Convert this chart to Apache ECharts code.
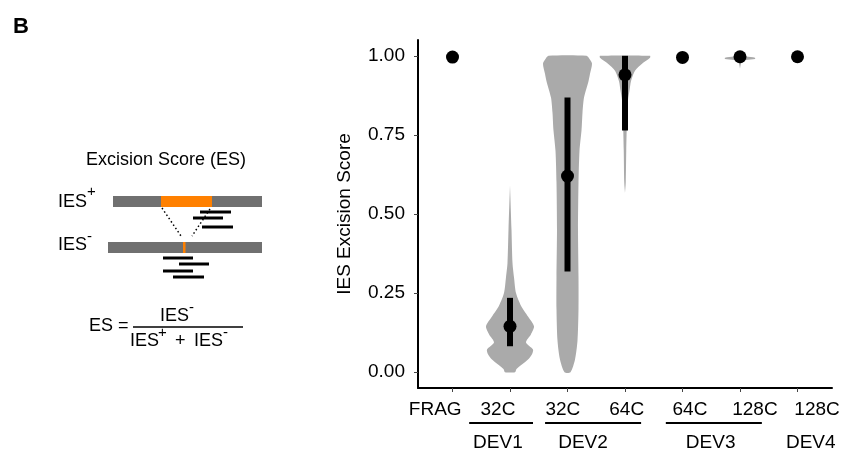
<!DOCTYPE html>
<html>
<head>
<meta charset="utf-8">
<style>
html, body { margin: 0; padding: 0; background: #fff; }
#main { width: 847px; height: 454px; }
</style>
<script src="https://cdn.jsdelivr.net/npm/echarts@6/dist/echarts.min.js"></script>
</head>
<body>
<div id="main"></div>
<script>
const FONT = '"Liberation Sans", Arial, Helvetica, sans-serif';
const INK = '#000';

// categories along x (positions 1..7)
const categories = ['FRAG', '32C', '32C', '64C', '64C', '128C', '128C'];
const groupNames = ['DEV1', 'DEV2', 'DEV3', 'DEV4'];
const yTicks = [0, 0.25, 0.5, 0.75, 1];

// median excision score per category (black dots)
const medians = [0.996, 0.145, 0.62, 0.94, 0.995, 0.997, 0.997];
// interquartile bars (null = none)
const barLow  = [null, 0.082, 0.318, 0.764, null, null, null];
const barHigh = [null, 0.235, 0.868, 1.0, null, null, null];

// violin outlines: score values and relative density (1 = widest)
const dev1_32c_y = [0, 0.01, 0.04, 0.057, 0.072, 0.094, 0.12, 0.145, 0.176, 0.21, 0.25, 0.30, 0.345, 0.45, 0.59];
const dev1_32c_d = [0.2, 0.26, 0.72, 0.88, 0.92, 0.64, 0.84, 0.96, 0.72, 0.44, 0.24, 0.16, 0.1, 0.06, 0];
const dev2_32c_y = [0, 0.04, 0.1, 0.2, 0.3, 0.45, 0.6, 0.7, 0.764, 0.82, 0.868, 0.92, 0.943, 0.975, 0.99, 1.0];
const dev2_32c_d = [0.12, 0.3, 0.4, 0.44, 0.44, 0.42, 0.44, 0.48, 0.56, 0.6, 0.66, 0.84, 0.9, 0.98, 0.88, 0.76];
const dev2_64c_y = [0.566, 0.6, 0.7, 0.8, 0.86, 0.89, 0.92, 0.953, 0.975, 0.994, 1.0];
const dev2_64c_d = [0, 0.03, 0.05, 0.08, 0.12, 0.18, 0.24, 0.4, 0.68, 1.0, 1.0];
const dev3_128c_y = [0.96, 0.975, 0.983, 0.987, 0.99, 0.994, 0.998, 1.0];
const dev3_128c_d = [0, 0.04, 0.1, 0.25, 0.6, 0.6, 0.25, 0];

const violins = [
    { x: 2, y: dev1_32c_y, d: dev1_32c_d },
    { x: 3, y: dev2_32c_y, d: dev2_32c_d },
    { x: 4, y: dev2_64c_y, d: dev2_64c_d },
    { x: 6, y: dev3_128c_y, d: dev3_128c_d }
];

// label layout (x in category units) - the figure sets labels slightly off the ticks
const catLabelX = [0.70, 1.79, 2.92, 4.03, 5.13, 6.26, 7.34];
const groupLabelX = [1.79, 3.27, 5.49, 7.23];
const groupLineX = [[1.29, 2.4], [2.61, 4.28], [4.71, 6.38]];

const VIOLIN_HALF = 0.435;   // half width of the widest violin, category units
const catIdx = categories.map((c, i) => i + 1);

var chart = echarts.init(document.getElementById('main'));

const option = {
    animation: false,
    textStyle: { fontFamily: FONT },
    grid: { left: 418, right: 15, top: 40, bottom: 66 },
    xAxis: [
        {
            type: 'value',
            min: 0.4,
            max: 7.6,
            splitLine: { show: false },
            axisLine: { show: true, onZero: false, lineStyle: { color: '#000', width: 2 } },
            axisTick: { show: true, customValues: catIdx, length: 4, lineStyle: { color: '#444' } },
            axisLabel: { show: false }
        },
        {
            type: 'value',
            position: 'bottom',
            min: 0.4,
            max: 7.6,
            splitLine: { show: false },
            axisLine: { show: false },
            axisTick: { show: false },
            axisLabel: {
                customValues: catLabelX,
                margin: 12,
                color: INK,
                fontSize: 19,
                fontFamily: FONT,
                formatter: v => categories[catLabelX.findIndex(p => Math.abs(p - v) < 1e-6)]
            }
        }
    ],
    yAxis: {
        type: 'value',
        min: -0.05,
        max: 1.05,
        name: 'IES Excision Score',
        nameLocation: 'middle',
        nameRotate: 90,
        nameGap: 64,
        nameTextStyle: { color: INK, fontSize: 19, fontFamily: FONT },
        splitLine: { show: false },
        axisLine: { show: true, onZero: false, lineStyle: { color: '#000', width: 2 } },
        axisTick: { show: true, customValues: yTicks, length: 4, lineStyle: { color: '#444' } },
        axisLabel: {
            customValues: yTicks,
            margin: 13,
            color: INK,
            fontSize: 19,
            fontFamily: FONT,
            formatter: v => v.toFixed(2)
        }
    },
    series: [
        {
            type: 'custom',
            name: 'violin',
            data: violins.map(v => [v.x]),
            renderItem: function (params, api) {
                const v = violins[params.dataIndex];
                const right = [], left = [];
                for (let i = 0; i < v.y.length; i++) {
                    right.push(api.coord([v.x + v.d[i] * VIOLIN_HALF, v.y[i]]));
                    left.push(api.coord([v.x - v.d[i] * VIOLIN_HALF, v.y[i]]));
                }
                return {
                    type: 'polygon',
                    shape: { points: right.concat(left.reverse()), smooth: 0.25 },
                    style: { fill: '#aaaaaa' }
                };
            },
            z: 1
        },
        {
            type: 'custom',
            name: 'iqr',
            data: catIdx.filter(i => barLow[i - 1] !== null).map(i => [i, barLow[i - 1], barHigh[i - 1]]),
            renderItem: function (params, api) {
                const p0 = api.coord([api.value(0), api.value(1)]);
                const p1 = api.coord([api.value(0), api.value(2)]);
                return {
                    type: 'line',
                    shape: { x1: p0[0], y1: p0[1], x2: p1[0], y2: p1[1] },
                    style: { stroke: '#000', lineWidth: 6 }
                };
            },
            z: 2
        },
        {
            type: 'scatter',
            name: 'median',
            data: catIdx.map(i => [i, medians[i - 1]]),
            symbolSize: 13,
            itemStyle: { color: '#000', opacity: 1 },
            z: 3
        }
    ]
};

chart.setOption(option);

// group labels and underlines below the x axis
const axisY = 454 - 66;
const groupGraphics = [];
groupLineX.forEach(function (g) {
    const a = chart.convertToPixel({ xAxisIndex: 0 }, g[0]);
    const b = chart.convertToPixel({ xAxisIndex: 0 }, g[1]);
    groupGraphics.push({
        type: 'line',
        shape: { x1: a, y1: axisY + 35, x2: b, y2: axisY + 35 },
        style: { stroke: '#000', lineWidth: 2 }
    });
});
groupNames.forEach(function (name, i) {
    groupGraphics.push({
        type: 'text',
        x: chart.convertToPixel({ xAxisIndex: 0 }, groupLabelX[i]),
        y: axisY + 55,
        style: { text: name, font: '19px ' + FONT, fill: INK, textAlign: 'center', textVerticalAlign: 'middle' }
    });
});

// left-hand schematic of the excision score
function txt(x, y, s, size, align, weight) {
    return {
        type: 'text', x: x, y: y,
        style: {
            text: s, font: (weight || 'normal') + ' ' + size + 'px ' + FONT, fill: INK,
            textAlign: align || 'left', textVerticalAlign: 'middle'
        }
    };
}
function seg(x1, y1, x2, y2, w, dash) {
    return {
        type: 'line',
        shape: { x1: x1, y1: y1, x2: x2, y2: y2 },
        style: { stroke: '#000', lineWidth: w, lineDash: dash || null }
    };
}
function box(x, y, w, h, c) {
    return { type: 'rect', shape: { x: x, y: y, width: w, height: h }, style: { fill: c } };
}

const schematic = [
    txt(13, 27, 'B', 22, 'left', 'bold'),
    txt(166, 160, 'Excision Score (ES)', 18, 'center'),
    txt(58, 202, 'IES', 18),
    txt(87, 192, '+', 15),
    box(113, 196, 149, 11, '#707070'),
    box(161, 196, 51, 11, '#ff8000'),
    seg(200, 212, 231, 212, 3),
    seg(193, 218, 223, 218, 3),
    seg(202, 227, 233, 227, 3),
    seg(162, 208, 181, 236, 1.5, [1.5, 2.5]),
    seg(210, 209, 192, 236, 1.5, [1.5, 2.5]),
    txt(58, 245, 'IES', 18),
    txt(87, 237, '-', 15),
    box(108, 242, 154, 11, '#707070'),
    box(183, 242, 2.5, 11, '#ff8000'),
    seg(163, 258, 193, 258, 3),
    seg(179, 264, 209, 264, 3),
    seg(163, 271, 193, 271, 3),
    seg(173, 277, 204, 277, 3),
    txt(89, 326, 'ES =', 18),
    seg(133, 327, 243, 327, 1.5),
    txt(160, 316, 'IES', 18),
    txt(189, 308, '-', 15),
    txt(130, 341, 'IES', 18),
    txt(158, 333, '+', 15),
    txt(175, 341, '+', 18),
    txt(194, 341, 'IES', 18),
    txt(223, 333, '-', 15)
];

chart.setOption({ graphic: { elements: groupGraphics.concat(schematic) } });

window.addEventListener('resize', function () {
    chart.resize();
});
</script>
</body>
</html>
